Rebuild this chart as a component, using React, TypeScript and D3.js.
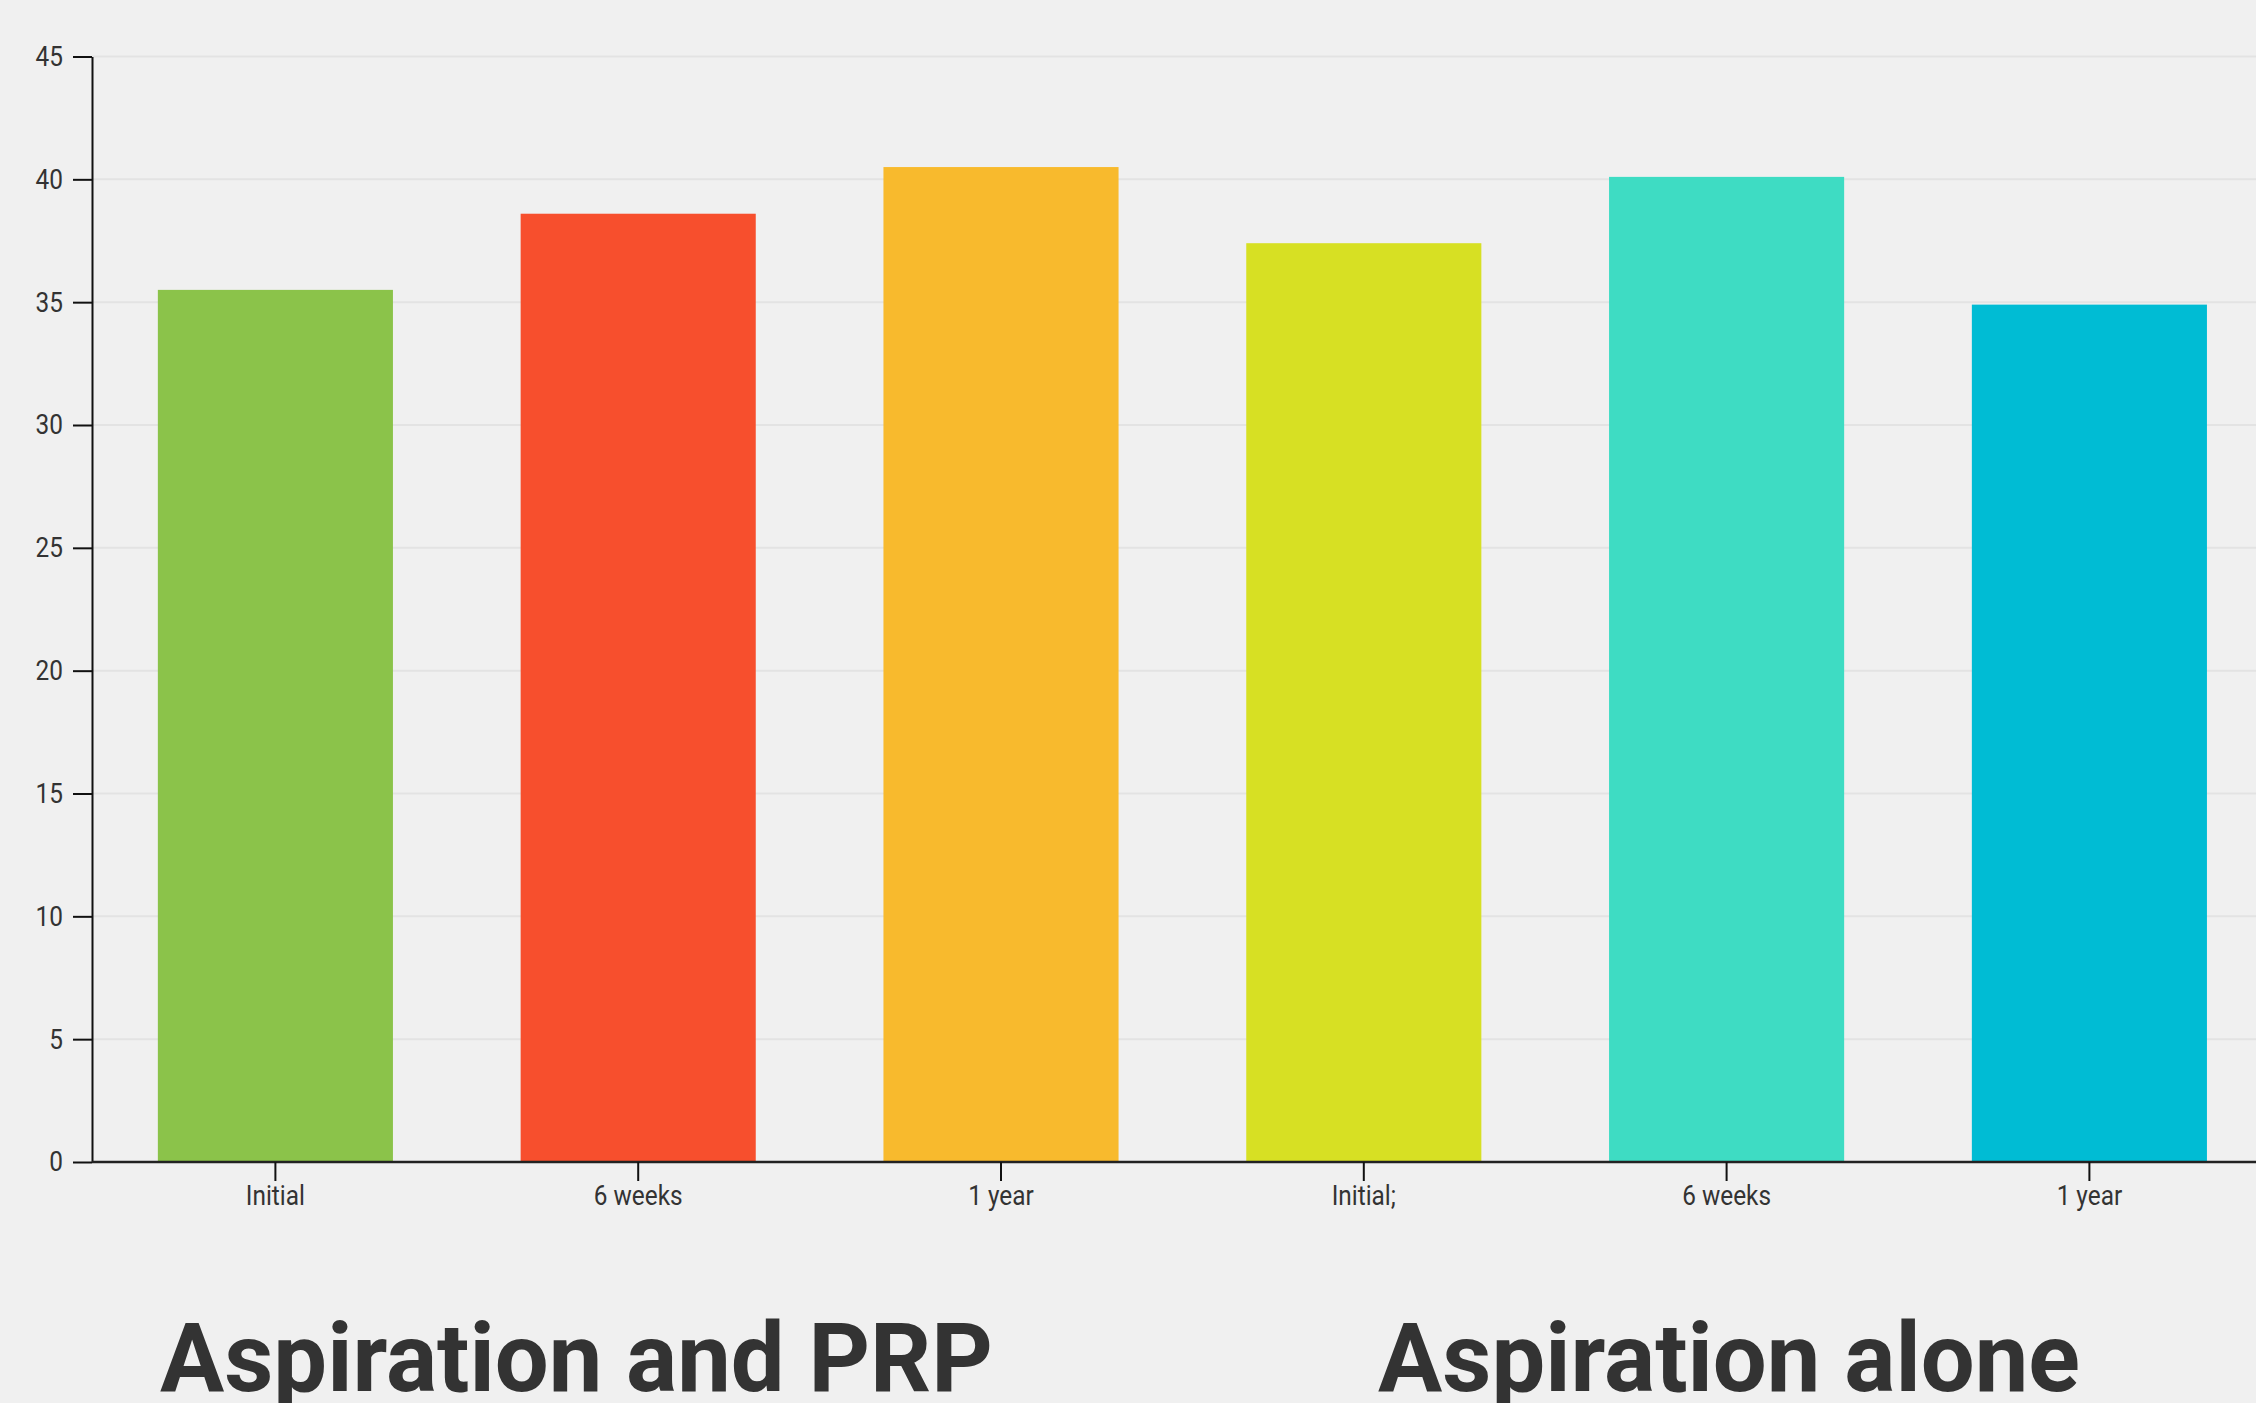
import { useRef, useEffect } from "react";
import * as d3 from "d3";

const categories = ["Initial", "6 weeks", "1 year", "Initial;", "6 weeks ", "1 year "];
const values = [35.5, 38.6, 40.5, 37.4, 40.1, 34.9];
const colors = ["#8BC34A", "#F74F2D", "#F8BA2D", "#D7E023", "#3EDCC3", "#00BCD4"];
const yTicks = [0, 5, 10, 15, 20, 25, 30, 35, 40, 45];
const groupTitles = ["Aspiration and PRP", "Aspiration alone"];

const W = 2256;
const H = 1403;
const AXIS_X = 92;
const Y0 = 1162;
const Y1 = 56.5;
const TXT = "#333";

export default function App() {
  const svgRef = useRef<SVGSVGElement>(null);

  useEffect(() => {
    if (!svgRef.current) return;
    const svg = d3.select(svgRef.current);
    svg.selectAll("*").remove();

    const x = d3.scaleBand<string>()
      .domain(categories)
      .range([94, 94 + 6 * 362.8])
      .paddingInner(0.352)
      .paddingOuter(0.176);
    const y = d3.scaleLinear().domain([0, 45]).range([Y0, Y1]);

    svg.append("rect").attr("width", W).attr("height", H).attr("fill", "#f0f0f0");

    // grid
    svg.append("g")
      .selectAll("line")
      .data(yTicks.filter(t => t > 0))
      .join("line")
      .attr("x1", AXIS_X).attr("x2", W)
      .attr("y1", d => y(d)).attr("y2", d => y(d))
      .attr("stroke", "#e3e3e3")
      .attr("stroke-width", 2);

    // bars
    svg.append("g")
      .selectAll("rect")
      .data(values)
      .join("rect")
      .attr("x", (_, i) => x(categories[i])!)
      .attr("width", x.bandwidth())
      .attr("y", d => y(d))
      .attr("height", d => Y0 - y(d))
      .attr("fill", (_, i) => colors[i]);

    // y axis
    const gy = svg.append("g")
      .attr("transform", `translate(${AXIS_X},0)`)
      .call(d3.axisLeft(y).tickValues(yTicks).tickSize(19).tickSizeOuter(0).tickPadding(10));
    gy.select(".domain").attr("stroke", "#111").attr("stroke-width", 2);
    gy.selectAll(".tick line").attr("stroke", "#111").attr("stroke-width", 2);
    gy.selectAll(".tick text")
      .attr("fill", TXT)
      .attr("font-family", "Roboto")
      .attr("font-size", 28);

    // x axis
    const gx = svg.append("g")
      .attr("transform", `translate(0,${Y0})`)
      .call(d3.axisBottom(x).tickSize(19).tickSizeOuter(0).tickPadding(4));
    gx.select(".domain").attr("d", `M${AXIS_X},0H${W}`).attr("stroke", "#222").attr("stroke-width", 2.5);
    gx.selectAll(".tick line").attr("stroke", "#111").attr("stroke-width", 2);
    gx.selectAll(".tick text")
      .text(d => String(d).trim())
      .attr("fill", TXT)
      .attr("font-family", "Roboto")
      .attr("font-size", 28);

    // condense tick labels (reference uses a condensed face)
    svg.selectAll<SVGTextElement, unknown>(".tick text").each(function () {
      const len = this.getComputedTextLength();
      d3.select(this).attr("textLength", len * 0.87).attr("lengthAdjust", "spacingAndGlyphs");
    });

    // group titles
    const titleX = [160, 1378];
    const titleW = [833, 702];
    svg.append("g")
      .selectAll("text")
      .data(groupTitles)
      .join("text")
      .attr("x", (_, i) => titleX[i])
      .attr("y", 1391)
      .attr("font-family", "Roboto")
      .attr("font-weight", 700)
      .attr("font-size", 96)
      .attr("fill", TXT)
      .attr("textLength", (_, i) => titleW[i])
      .attr("lengthAdjust", "spacingAndGlyphs")
      .text(d => d);
  }, []);

  return (
    <div style={{ position: "absolute", left: 0, top: 0, width: W, height: H, overflow: "hidden" }}>
      <svg ref={svgRef} width={W} height={H} style={{ display: "block" }} />
    </div>
  );
}
